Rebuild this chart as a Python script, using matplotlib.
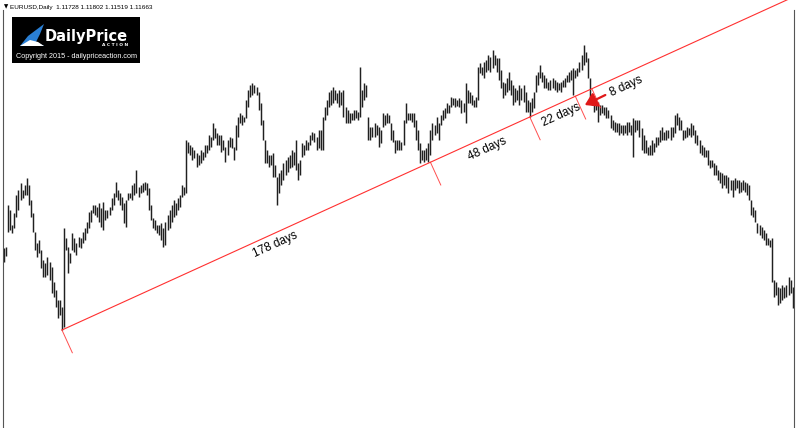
import numpy as np
import matplotlib
matplotlib.use("Agg")
import matplotlib.pyplot as plt
from matplotlib.patches import Rectangle, Polygon

# EURUSD daily bars (price in chart pips, higher = higher price)
bar_high = [
    182, 183, 225, 220, 205, 217, 235, 240, 247, 240, 245, 252, 245, 230, 217, 198, 187, 190, 180, 170,
    167, 173, 168, 163, 148, 140, 130, 130, 123, 202, 192, 183, 177, 197, 192, 187, 193, 192, 198, 202,
    208, 218, 220, 225, 225, 223, 227, 222, 228, 220, 220, 223, 232, 237, 248, 240, 237, 233, 227, 230,
    237, 237, 245, 247, 260, 243, 245, 247, 248, 247, 242, 225, 212, 210, 205, 205, 207, 202, 208, 215,
    220, 225, 230, 227, 232, 235, 245, 243, 290, 288, 285, 283, 280, 277, 275, 280, 278, 285, 285, 295,
    293, 307, 302, 297, 295, 295, 290, 283, 290, 293, 292, 283, 305, 313, 317, 315, 313, 330, 340, 345,
    347, 345, 343, 338, 327, 310, 290, 280, 275, 275, 277, 265, 253, 257, 260, 267, 270, 273, 275, 280,
    278, 290, 267, 270, 287, 285, 290, 288, 295, 298, 297, 293, 300, 300, 313, 323, 330, 338, 340, 343,
    340, 337, 340, 338, 340, 323, 320, 317, 317, 320, 320, 318, 363, 340, 347, 345, 313, 303, 303, 307,
    305, 303, 300, 317, 315, 317, 315, 307, 300, 290, 290, 290, 288, 310, 327, 317, 317, 317, 317, 310,
    300, 287, 280, 280, 282, 287, 300, 307, 305, 313, 307, 315, 320, 322, 327, 325, 333, 332, 332, 330,
    332, 330, 327, 347, 340, 338, 335, 330, 333, 363, 367, 363, 368, 370, 375, 373, 380, 375, 372, 372,
    360, 348, 347, 352, 358, 350, 345, 342, 340, 345, 342, 345, 338, 330, 328, 332, 338, 355, 358, 365,
    358, 355, 352, 348, 350, 352, 350, 348, 347, 348, 350, 352, 355, 358, 360, 362, 360, 362, 368, 375,
    385, 378, 372, 352, 335, 332, 330, 328, 325, 325, 323, 323, 320, 315, 310, 308, 307, 307, 305, 305,
    305, 308, 308, 305, 312, 310, 310, 310, 302, 295, 290, 283, 285, 290, 287, 293, 293, 300, 303, 298,
    300, 300, 303, 303, 315, 317, 313, 310, 300, 300, 303, 302, 307, 305, 300, 295, 290, 285, 283, 280,
    280, 270, 270, 267, 265, 260, 258, 257, 255, 255, 253, 250, 250, 252, 250, 250, 248, 250, 248, 247,
    245, 230, 223, 220, 207, 205, 203, 200, 197, 192, 190, 192, 150, 148, 143, 142, 145, 143, 145, 153,
    150, 143,
]
bar_low = [
    168, 174, 198, 200, 197, 202, 213, 220, 230, 232, 235, 235, 225, 213, 198, 180, 173, 177, 162, 153,
    153, 155, 150, 137, 133, 123, 112, 115, 100, 103, 180, 157, 167, 180, 178, 175, 183, 182, 187, 190,
    197, 202, 208, 217, 215, 213, 208, 203, 200, 210, 212, 215, 220, 225, 233, 230, 225, 220, 207, 203,
    230, 232, 230, 235, 237, 233, 237, 238, 240, 235, 220, 210, 202, 200, 197, 195, 190, 183, 185, 200,
    202, 208, 213, 215, 220, 223, 233, 235, 237, 277, 275, 270, 272, 263, 265, 267, 270, 273, 277, 280,
    283, 290, 292, 285, 285, 278, 280, 268, 275, 283, 282, 270, 280, 293, 307, 305, 308, 312, 323, 333,
    335, 337, 335, 320, 305, 290, 267, 267, 263, 265, 253, 253, 225, 237, 245, 250, 255, 258, 262, 263,
    265, 260, 250, 255, 273, 275, 280, 280, 285, 290, 288, 280, 282, 280, 280, 310, 315, 323, 325, 327,
    330, 327, 323, 325, 313, 307, 307, 307, 310, 310, 312, 310, 313, 323, 330, 333, 290, 290, 293, 293,
    295, 283, 287, 303, 305, 307, 307, 290, 288, 277, 280, 280, 280, 285, 307, 310, 310, 308, 303, 290,
    280, 267, 270, 268, 270, 268, 275, 290, 295, 297, 290, 305, 310, 312, 317, 317, 323, 325, 323, 324,
    323, 317, 318, 307, 327, 327, 325, 323, 323, 330, 357, 355, 352, 358, 360, 358, 362, 365, 358, 350,
    342, 332, 335, 338, 340, 335, 325, 328, 330, 325, 330, 328, 318, 318, 313, 318, 322, 338, 345, 352,
    348, 342, 342, 340, 340, 342, 340, 338, 340, 338, 343, 343, 348, 348, 350, 335, 352, 354, 358, 360,
    365, 368, 352, 332, 325, 318, 320, 308, 315, 317, 315, 312, 312, 302, 300, 298, 298, 295, 297, 295,
    297, 295, 298, 295, 273, 298, 300, 293, 280, 277, 277, 275, 275, 275, 278, 283, 285, 288, 290, 290,
    290, 292, 290, 293, 297, 305, 300, 300, 290, 292, 293, 295, 293, 295, 287, 285, 277, 275, 273, 273,
    265, 262, 263, 255, 255, 250, 247, 242, 245, 242, 237, 240, 233, 240, 242, 237, 238, 240, 238, 235,
    230, 215, 213, 208, 197, 195, 192, 190, 185, 185, 183, 148, 133, 135, 125, 127, 130, 132, 133, 135,
    137, 122,
]

# trend line anchors (bar index of the two touches) and day counts between marks
trend_start = 28
trend_touch = 254
day_counts = [178, 48, 22, 8]
day_labels = ["178 days", "48 days", "22 days", "8 days"]
label_bars = [129, 231, 267, 298]

header = "EURUSD,Daily  1.11728 1.11802 1.11519 1.11663"

W, H = 800, 428
PX_PER_BAR = 2.07
fig = plt.figure(figsize=(W / 100, H / 100), dpi=100)
ax = fig.add_axes([0, 0, 1, 1])
ax.set_xlim(-4 / PX_PER_BAR, (W - 4) / PX_PER_BAR)
ax.set_ylim(2, 430)
ax.axis("off")

idx = np.arange(len(bar_high))
ax.vlines(idx, bar_low, bar_high, color="#202020", linewidth=1.05, zorder=2)

# trend line
red = "#ff3030"
y0 = bar_low[trend_start]
slope = (bar_low[trend_touch] - y0) / (trend_touch - trend_start)
xe = 384
ax.plot([trend_start, xe], [y0, y0 + slope * (xe - trend_start)], color=red, lw=0.8, zorder=3)

# perpendicular ticks (in pixel space)
s_px = slope / PX_PER_BAR
nx, ny = s_px, -1.0
nrm = np.hypot(nx, ny)
nx, ny = nx / nrm, ny / nrm
marks = [trend_start] + list(trend_start + np.cumsum(day_counts))
for k, m in enumerate(marks):
    L = 25 if k < len(marks) - 1 else 21
    ym = y0 + slope * (m - trend_start)
    ax.plot([m, m + nx * L / PX_PER_BAR], [ym, ym + ny * L], color=red, lw=0.7, alpha=0.85, zorder=3)

angle = np.degrees(np.arctan(s_px))
for k, (lab, b) in enumerate(zip(day_labels, label_bars)):
    yl = y0 + slope * (b - trend_start)
    off = 11 if k < 3 else 12
    ax.annotate(lab, (b, yl), xytext=(nx * off * 0.72, ny * off * 0.72), textcoords="offset points",
                rotation=angle, rotation_mode="anchor", ha="center", va="center",
                fontsize=8.5, family="Liberation Sans", color="black", zorder=5)

# arrow for the 8 day mark
ax.annotate("", xy=(280.6, 325), xytext=(290.5, 335),
            arrowprops=dict(arrowstyle="-|>,head_length=0.7,head_width=0.45", mutation_scale=10,
                            color="#e01818", lw=1.6, shrinkA=0, shrinkB=0), zorder=6)

# frame
ax.plot([-0.5 / PX_PER_BAR, -0.5 / PX_PER_BAR], [2, 420], color="#555555", lw=0.8)
ax.plot([(794 - 4) / PX_PER_BAR] * 2, [2, 420], color="#555555", lw=0.8)

# header
fig.text(4 / W, 1 - 7 / H, "\u25bc", fontsize=4, va="center", ha="left", family="DejaVu Sans")
fig.text(10 / W, 1 - 7 / H, header, fontsize=4.6, va="center", ha="left", family="Liberation Sans")

# logo box
fig.patches.append(Rectangle((12 / W, 1 - 63 / H), 128 / W, 46 / H, transform=fig.transFigure,
                             facecolor="black", edgecolor="none", zorder=10))
swoosh = [(20, 46), (28, 36), (36, 30), (44, 24), (40, 34), (36, 42), (44, 46)]
fig.patches.append(Polygon([(x / W, 1 - y / H) for x, y in swoosh], closed=True, transform=fig.transFigure,
                           facecolor="#2a7fd4", edgecolor="none", zorder=11))
base = [(20, 46), (30, 40), (38, 42), (44, 46)]
fig.patches.append(Polygon([(x / W, 1 - y / H) for x, y in base], closed=True, transform=fig.transFigure,
                           facecolor="white", edgecolor="none", zorder=11))
fig.text(45 / W, 1 - 36 / H, "DailyPrice", fontsize=10.5, fontweight="bold", color="white", va="center",
         ha="left", family="DejaVu Sans", zorder=12)
fig.text(128 / W, 1 - 45.5 / H, "A C T I O N", fontsize=3.2, fontweight="bold", color="white", va="center",
         ha="right", family="DejaVu Sans", zorder=12)
fig.text(76 / W, 1 - 56 / H, "Copyright 2015 - dailypriceaction.com", fontsize=5.2, color="white",
         va="center", ha="center", family="Liberation Sans", zorder=12)

fig.savefig("out.png", dpi=100, facecolor="white")
